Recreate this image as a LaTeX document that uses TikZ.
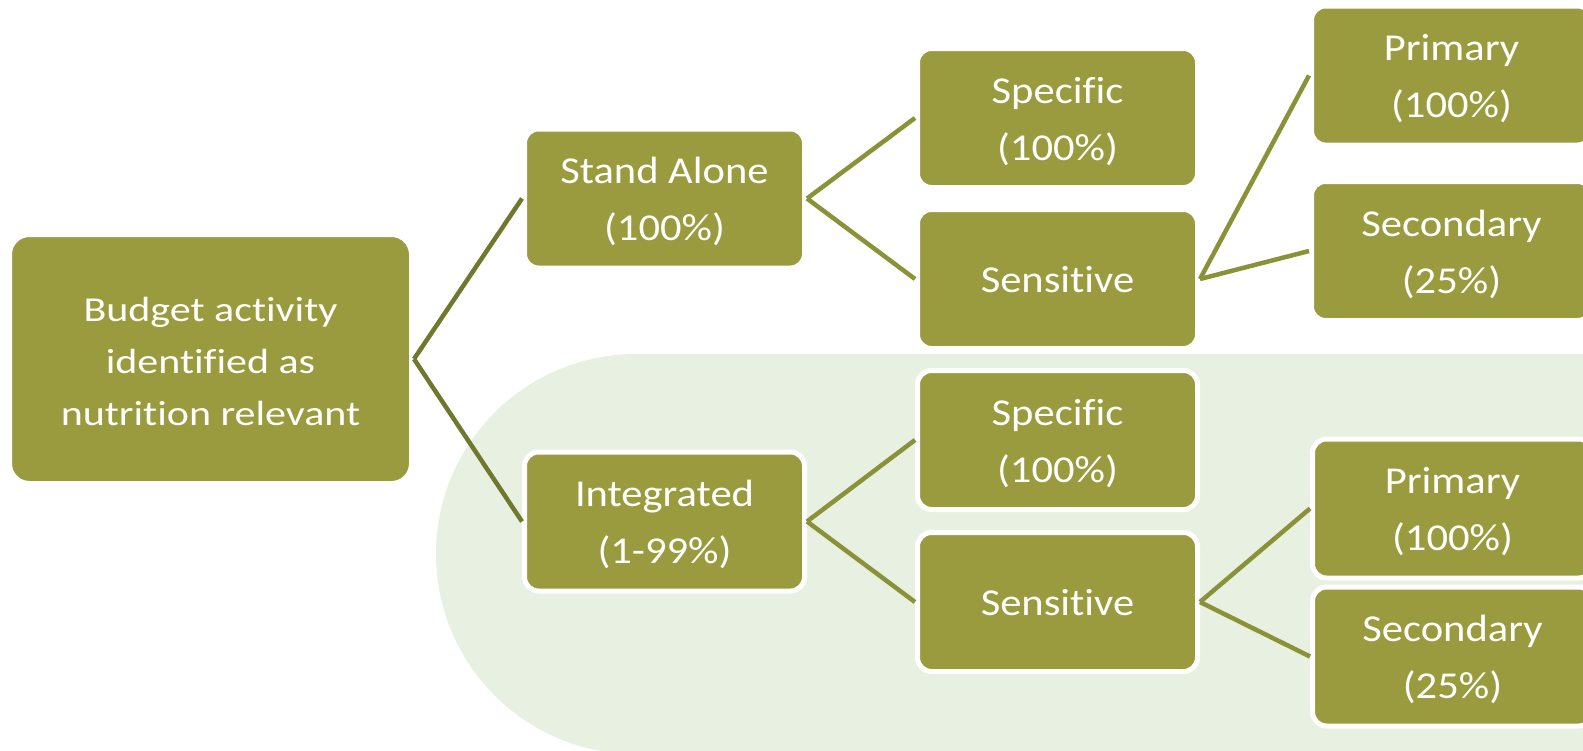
\documentclass[tikz,border=0pt]{standalone}
\usepackage{fontspec}
\setmainfont{Carlito}[FakeStretch=1.12,Ligatures=NoCommon]
\newfontfamily\rootfont{Carlito}[FakeStretch=1.2,Ligatures=NoCommon]
\definecolor{boxfill}{RGB}{154,155,62}
\definecolor{rootline}{RGB}{112,120,45}
\definecolor{subline}{RGB}{138,146,55}
\definecolor{bggreen}{RGB}{232,240,226}
\newcommand\tsA{\rule{0pt}{40pt}}
\newcommand\bsA{\rule[-12.5pt]{0pt}{0pt}}
\newcommand\bsB{\rule[-11.5pt]{0pt}{0pt}}
\begin{document}
\begin{tikzpicture}[x=1pt,y=-1pt,
  box/.style={rectangle, fill=boxfill, draw=white, line width=5pt, rounded corners=14pt,
    minimum width=280pt, minimum height=139pt, text=white, align=center,
    font=\fontsize{38pt}{57pt}\selectfont, inner sep=0pt},
  rootbox/.style={box, minimum width=402pt, minimum height=249pt, rounded corners=20pt,
    font=\rootfont\fontsize{35pt}{52pt}\selectfont},
  rootconn/.style={draw=rootline, line width=4.5pt},
  conn/.style={draw=subline, line width=4.5pt}]
\useasboundingbox (0,0) rectangle (1583,750);
\clip (0,0) rectangle (1583,750);
\fill[bggreen, rounded corners=200pt] (436,354) rectangle (1800,754);

\node[rootbox] (root) at (210.5,359) {\tsA Budget activity\\identified as\\nutrition relevant\bsB};
\node[box] (alone) at (664.5,198.5) {\tsA Stand Alone\\(100\%)\bsA};
\node[box] (integ) at (664.5,521.5) {\tsA Integrated\\(1-99\%)\bsA};
\node[box] (spec1) at (1057.5,118) {\tsA Specific\\(100\%)\bsA};
\node[box] (sens1) at (1057.5,279) {\tsA Sensitive\bsA};
\node[box] (spec2) at (1057.5,440) {\tsA Specific\\(100\%)\bsA};
\node[box] (sens2) at (1057.5,602) {\tsA Sensitive\bsA};
\node[box] (prim1) at (1451.5,75.5) {\tsA Primary\\(100\%)\bsA};
\node[box] (seco1) at (1451.5,251) {\tsA Secondary\\(25\%)\bsA};
\node[box] (prim2) at (1452.5,508.5) {\tsA Primary\\(100\%)\bsA};
\node[box] (seco2) at (1452.5,656.5) {\tsA Secondary\\(25\%)\bsA};

\draw[rootconn] (root.east) -- (alone.west);
\draw[rootconn] (root.east) -- (integ.west);
\draw[conn] (alone.east) -- (spec1.west);
\draw[conn] (alone.east) -- (sens1.west);
\draw[conn] (integ.east) -- (spec2.west);
\draw[conn] (integ.east) -- (sens2.west);
\draw[conn] (sens1.east) -- (prim1.west);
\draw[conn] (sens1.east) -- (seco1.west);
\draw[conn] (sens2.east) -- (prim2.west);
\draw[conn] (sens2.east) -- (seco2.west);
\end{tikzpicture}
\end{document}
